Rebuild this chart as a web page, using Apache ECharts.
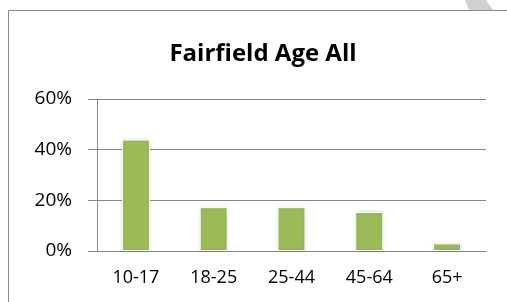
<!DOCTYPE html>
<html>
<head>
<meta charset="utf-8">
<script src="https://cdn.jsdelivr.net/npm/echarts@6/dist/echarts.min.js"></script>
<style>
  html, body { margin: 0; padding: 0; background: #fff; }
  #chart { width: 507px; height: 302px; }
</style>
</head>
<body>
<div id="chart"></div>
<script>
// age groups and share of population (%)
const categories = ["10-17", "18-25", "25-44", "45-64", "65+"];
const shares = [44, 17.3, 17.3, 15.4, 3];
const yTicks = [0, 20, 40, 60];

const chart = echarts.init(document.getElementById("chart"));
const lineColor = "#868686";
const font = "Open Sans, Noto Sans, sans-serif";

chart.setOption({
  animation: false,
  title: {
    text: "Fairfield Age All",
    left: 258,
    textAlign: "center",
    top: 37,
    textStyle: { fontFamily: font, fontSize: 24, fontWeight: "bold", color: "#000" },
  },
  graphic: [
    {
      // grey page watermark peeking above the frame
      type: "polygon",
      shape: { points: [[465, 0], [486, 0], [493, 10], [469, 10]] },
      style: { fill: "#d0d0d0" },
      silent: true,
    },
    {
      // outer chart frame
      type: "rect",
      shape: { x: 8.5, y: 10.5, width: 520, height: 320 },
      style: { fill: null, stroke: "#8c8c8c", lineWidth: 1 },
      silent: true,
    },
  ],
  grid: { left: 97, right: 21, top: 99, bottom: 51 },
  xAxis: {
    type: "category",
    data: categories,
    axisLine: { lineStyle: { color: lineColor } },
    axisTick: { length: 6, lineStyle: { color: lineColor } },
    axisLabel: { margin: 18, fontFamily: font, fontSize: 18, color: "#000" },
  },
  yAxis: {
    type: "value",
    min: yTicks[0],
    max: yTicks[yTicks.length - 1],
    interval: 20,
    axisLine: { show: true, lineStyle: { color: lineColor } },
    axisTick: { show: true, length: 9, lineStyle: { color: lineColor } },
    splitLine: { lineStyle: { color: lineColor, width: 1 } },
    axisLabel: {
      margin: 25,
      fontFamily: font,
      fontSize: 19,
      color: "#000",
      formatter: "{value}%",
    },
  },
  series: [
    {
      type: "bar",
      data: shares,
      barWidth: 28,
      itemStyle: {
        color: "#9BBB59",
        borderColor: "#ffffff",
        borderWidth: 1,
        shadowColor: "rgba(0,0,0,0.15)",
        shadowBlur: 3,
      },
    },
  ],
});
</script>
</body>
</html>
